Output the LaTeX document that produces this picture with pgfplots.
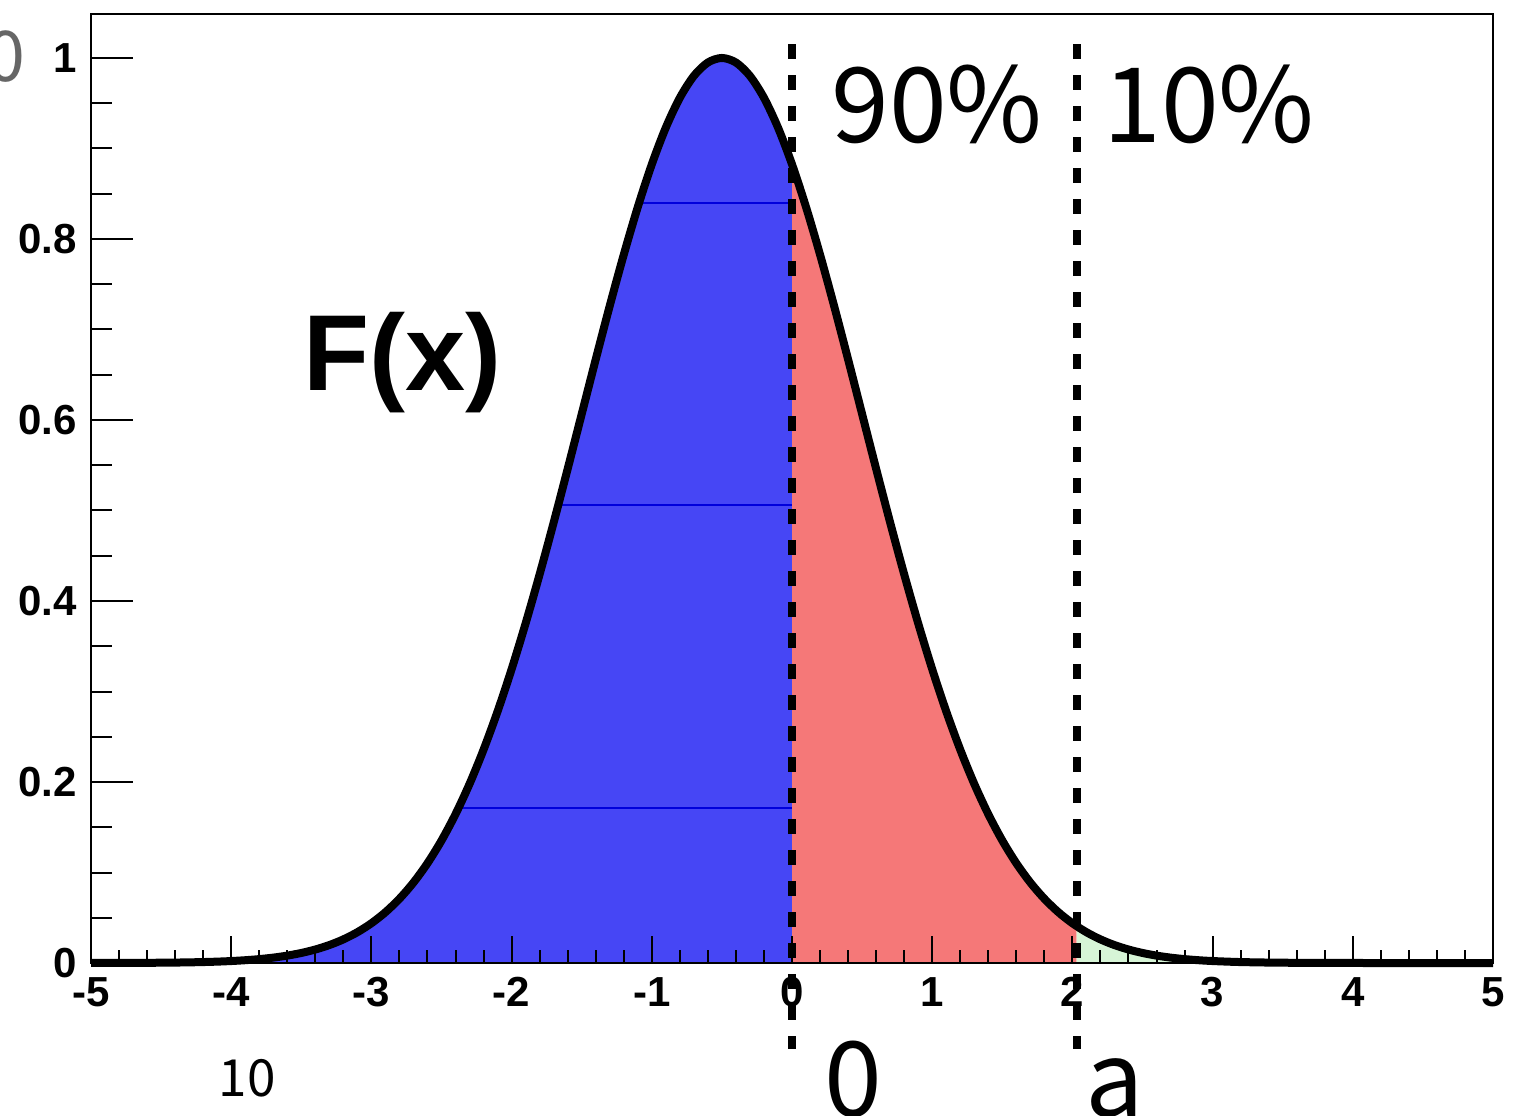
\documentclass[border=0pt]{standalone}
\usepackage{fontspec}
\setmainfont{Liberation Sans}
\newfontfamily\jp{Noto Sans CJK JP}
\usepackage{pgfplots}
\pgfplotsset{compat=1.18}
\definecolor{bluefill}{RGB}{70,70,245}
\definecolor{redfill}{RGB}{245,120,120}
\definecolor{greenfill}{RGB}{215,245,215}
\begin{document}
\begin{tikzpicture}
\pgfplotsset{
  base/.style={
    scale only axis, width=350.5pt, height=237.25pt,
    xmin=-5, xmax=5, ymin=0, ymax=1.0486,
    at={(0,0)}, anchor=south west,
    axis line style={line width=0.5pt},
    tick align=inside, tick pos=left,
    tick style={line width=0.5pt, black},
    tick label style={font=\fontsize{10.5}{12}\selectfont\bfseries},
  }
}
\begin{axis}[base, name=ax, clip=false,
  xtick={-5,-4,-3,-2,-1,0,1,2,3,4,5},
  xticklabels={-5,-4,-3,-2,-1,0,1,2,3,4,5},
  minor x tick num=4,
  major tick length=6.75pt, minor tick length=3.3pt,
  ytick=\empty, axis on top]
% blue region
\addplot[draw=none, fill=bluefill] coordinates {
(-5,0.00004) (-4.7,0.00015) (-4.5,0.00034) (-4.4,0.00050) (-4.3,0.00073) (-4.2,0.00106)
(-4.1,0.00153) (-4.0,0.00219) (-3.9,0.00309) (-3.8,0.00432) (-3.7,0.00598) (-3.6,0.00819)
(-3.5,0.01111) (-3.4,0.01492) (-3.3,0.01984) (-3.2,0.02612) (-3.1,0.03405) (-3.0,0.04394)
(-2.9,0.05613) (-2.8,0.07100) (-2.7,0.08892) (-2.6,0.11025) (-2.5,0.13534) (-2.4,0.16447)
(-2.3,0.19790) (-2.2,0.23575) (-2.1,0.27804) (-2.0,0.32465) (-1.9,0.37531) (-1.8,0.42956)
(-1.7,0.48675) (-1.6,0.54607) (-1.5,0.60653) (-1.4,0.66698) (-1.3,0.72615) (-1.2,0.78270)
(-1.1,0.83527) (-1.0,0.88250) (-0.9,0.92312) (-0.8,0.95600) (-0.7,0.98020) (-0.6,0.99501)
(-0.5,1.00000) (-0.4,0.99501) (-0.3,0.98020) (-0.2,0.95600) (-0.1,0.92312) (0.0,0.88250)
} \closedcycle;
% red region
\addplot[draw=none, fill=redfill] coordinates {
(0.0,0.88250) (0.1,0.83527) (0.2,0.78270) (0.3,0.72615) (0.4,0.66698) (0.5,0.60653)
(0.6,0.54607) (0.7,0.48675) (0.8,0.42956) (0.9,0.37531) (1.0,0.32465) (1.1,0.27804)
(1.2,0.23575) (1.3,0.19790) (1.4,0.16447) (1.5,0.13534) (1.6,0.11025) (1.7,0.08892)
(1.8,0.07100) (1.9,0.05613) (2.0,0.04394) (2.03,0.04100)
} \closedcycle;
% green region
\addplot[draw=none, fill=greenfill] coordinates {
(2.03,0.04100) (2.1,0.03405) (2.2,0.02612) (2.3,0.01984) (2.4,0.01492) (2.5,0.01111)
(2.6,0.00819) (2.7,0.00598) (2.8,0.00432)
} \closedcycle;
% thin artifact lines in blue region
\addplot[line width=0.5pt, color={rgb,255:red,0;green,0;blue,220}] coordinates {(-1.09,0.84) (0,0.84)};
\addplot[line width=0.5pt, color={rgb,255:red,0;green,0;blue,220}] coordinates {(-1.667,0.506) (0,0.506)};
\addplot[line width=0.5pt, color={rgb,255:red,0;green,0;blue,220}] coordinates {(-2.38,0.171) (0,0.171)};
% curve
\addplot[line width=2pt, black, smooth] coordinates {
(-5,0.00004) (-4.7,0.00015) (-4.5,0.00034) (-4.4,0.00050) (-4.3,0.00073) (-4.2,0.00106)
(-4.1,0.00153) (-4.0,0.00219) (-3.9,0.00309) (-3.8,0.00432) (-3.7,0.00598) (-3.6,0.00819)
(-3.5,0.01111) (-3.4,0.01492) (-3.3,0.01984) (-3.2,0.02612) (-3.1,0.03405) (-3.0,0.04394)
(-2.9,0.05613) (-2.8,0.07100) (-2.7,0.08892) (-2.6,0.11025) (-2.5,0.13534) (-2.4,0.16447)
(-2.3,0.19790) (-2.2,0.23575) (-2.1,0.27804) (-2.0,0.32465) (-1.9,0.37531) (-1.8,0.42956)
(-1.7,0.48675) (-1.6,0.54607) (-1.5,0.60653) (-1.4,0.66698) (-1.3,0.72615) (-1.2,0.78270)
(-1.1,0.83527) (-1.0,0.88250) (-0.9,0.92312) (-0.8,0.95600) (-0.7,0.98020) (-0.6,0.99501)
(-0.5,1.00000) (-0.4,0.99501) (-0.3,0.98020) (-0.2,0.95600) (-0.1,0.92312) (0.0,0.88250)
(0.1,0.83527) (0.2,0.78270) (0.3,0.72615) (0.4,0.66698) (0.5,0.60653)
(0.6,0.54607) (0.7,0.48675) (0.8,0.42956) (0.9,0.37531) (1.0,0.32465) (1.1,0.27804)
(1.2,0.23575) (1.3,0.19790) (1.4,0.16447) (1.5,0.13534) (1.6,0.11025) (1.7,0.08892)
(1.8,0.07100) (1.9,0.05613) (2.0,0.04394) (2.1,0.03405) (2.2,0.02612) (2.3,0.01984)
(2.4,0.01492) (2.5,0.01111) (2.6,0.00819) (2.7,0.00598) (2.8,0.00432) (2.9,0.00309)
(3.0,0.00219) (3.2,0.00106) (3.5,0.00034) (4.0,0.00004) (4.5,0.0) (5.0,0.0)
};
% dashed lines
\addplot[line width=2pt, black, dash pattern=on 3.75pt off 4pt] coordinates {(0,1.015) (0,-0.095)};
\addplot[line width=2pt, black, dash pattern=on 3.75pt off 4pt] coordinates {(2.03,1.015) (2.03,-0.095)};
% texts
\node[font=\jp\fontsize{26}{30}\selectfont, anchor=center] at (axis cs:1.034,0.949) {90\%};
\node[font=\jp\fontsize{26}{30}\selectfont, anchor=center] at (axis cs:2.974,0.949) {10\%};
\node[font=\fontsize{27}{30}\selectfont\bfseries, anchor=base] at (axis cs:-2.78,0.633) {F(x)};
\node[font=\jp\fontsize{26}{30}\selectfont, anchor=base] at (axis cs:0.435,-0.170) {0};
\node[font=\jp\fontsize{26}{30}\selectfont, anchor=base] at (axis cs:2.30,-0.170) {a};
\node[font=\jp\fontsize{12.8}{14}\selectfont, anchor=base] at (axis cs:-3.887,-0.148) {10};
\node[font=\jp\fontsize{17.5}{20}\selectfont, text=black!60, anchor=center] at (axis cs:-5.61,1.002) {0};
\end{axis}
\begin{axis}[base,
  xtick=\empty,
  ytick={0,0.2,0.4,0.6,0.8,1},
  yticklabels={0,0.2,0.4,0.6,0.8,1},
  minor y tick num=3,
  major tick length=10.5pt, minor tick length=5.25pt]
\end{axis}
\pgfresetboundingbox
\useasboundingbox ([shift={(-22.75pt,-38pt)}]ax.south west) rectangle ([shift={(8pt,3.5pt)}]ax.north east);
\end{tikzpicture}
\end{document}
